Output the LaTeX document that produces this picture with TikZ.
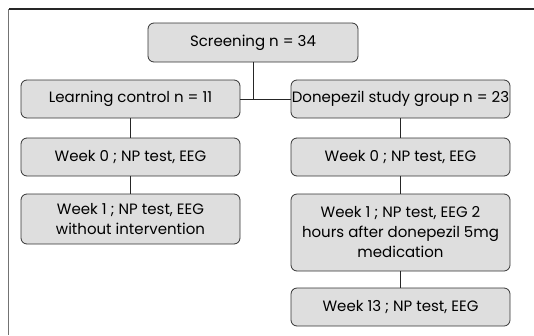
\documentclass[tikz,border=0pt]{standalone}
\usepackage{fontspec}
\setmainfont{Poppins}
\begin{document}
\begin{tikzpicture}[x=1pt,y=-1pt,
  box/.style={draw=black!80, line width=0.8pt, fill=black!13, rounded corners=6pt, align=center, inner sep=0pt, font=\fontsize{15}{20}\selectfont},
  link/.style={draw=black!85, line width=0.8pt}]
\useasboundingbox (0,0) rectangle (534,335);
\draw[black!85, line width=1.2pt] (534,9) -- (8.5,9);
\draw[black!55, line width=1.6pt] (8.5,9) -- (8.5,335);
\node[box, minimum width=210pt, minimum height=39pt] (scr) at (253,42.5) {Screening n = 34};
\node[box, minimum width=219pt, minimum height=38pt] (lc) at (130.5,99) {Learning control n = 11};
\node[box, minimum width=219pt, minimum height=38pt] (dg) at (400.5,99) {Donepezil study group n = 23};
\node[box, minimum width=219pt, minimum height=38pt] (l0) at (130.5,157) {Week 0 ; NP test, EEG};
\node[box, minimum width=219pt, minimum height=38pt] (d0) at (400.5,157) {Week 0 ; NP test, EEG};
\node[box, minimum width=219pt, minimum height=50pt] (l1) at (130.5,219) {Week 1 ; NP test, EEG\\without intervention};
\node[box, minimum width=219pt, minimum height=77pt] (d1) at (400.5,232.5) {Week 1 ; NP test, EEG 2\\hours after donepezil 5mg\\medication};
\node[box, minimum width=219pt, minimum height=38pt] (d13) at (400.5,307) {Week 13 ; NP test, EEG};
\coordinate (j) at (scr.south |- lc.east);
\draw[link] (scr.south) -- (j);
\draw[link] (lc.east) -- (dg.west);
\draw[link] (lc.south) -- (l0.north);
\draw[link] (l0.south) -- (l1.north);
\draw[link] (dg.south) -- (d0.north);
\draw[link] (d0.south) -- (d1.north);
\draw[link] (d1.south) -- (d13.north);
\end{tikzpicture}
\end{document}
